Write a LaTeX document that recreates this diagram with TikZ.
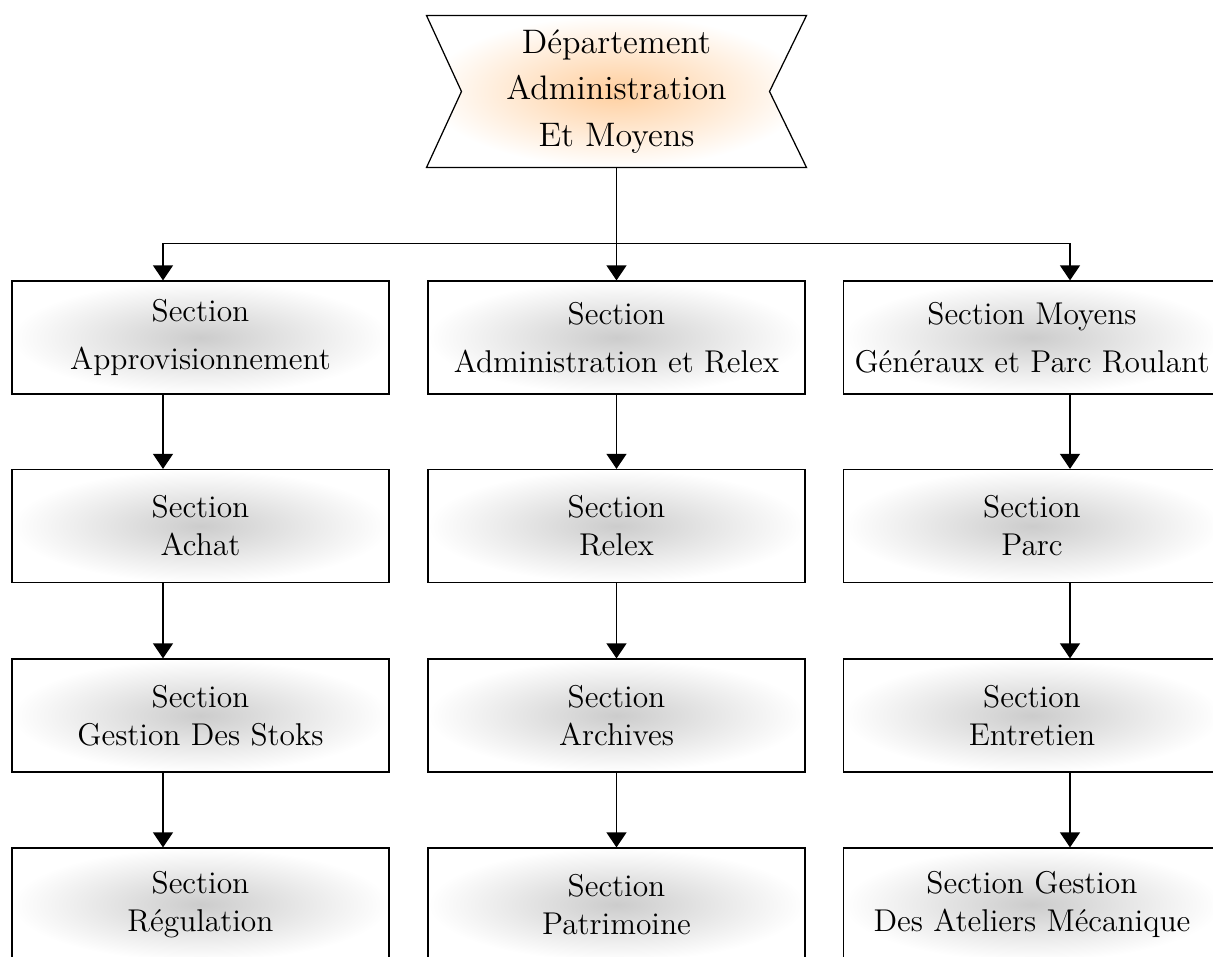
\documentclass[tikz,border=0pt]{standalone}
\usetikzlibrary{arrows.meta,calc,backgrounds}
\begin{document}
\begin{tikzpicture}[x=0.4pt,y=-0.4pt,
  box/.style={draw=black, line width=0.5pt, rectangle, minimum width=150.8pt, minimum height=45.2pt,
    inner color=black!20, outer color=white, align=center, inner sep=0pt,
    font=\fontsize{12.6}{15.2}\selectfont},
  arr/.style={line width=0.5pt, -{Triangle[length=6pt,width=8pt]}},
  topfont/.style={font=\fontsize{13.6}{18.6}\selectfont}]
\useasboundingbox (0,0) rectangle (1213,956);
\clip (0,0) rectangle (1213,956);

% top node
\node[topfont, align=center, minimum width=151.6pt, minimum height=60.4pt, inner sep=0pt]
  (dep) at (616.5,91.5) {Département\\Administration\\Et Moyens};
\begin{scope}[on background layer]
\path[draw=black, line width=0.5pt, inner color=orange!38, outer color=white]
  (dep.north west) -- (dep.north east) -- ($(dep.east)+(-37,0)$) -- (dep.south east)
  -- (dep.south west) -- ($(dep.west)+(35,0)$) -- cycle;
\end{scope}

% column 1
\node[box] (a1) at (200.5,337.5) {Section\\[4pt]Approvisionnement};
\node[box] (a2) at (200.5,526) {Section\\Achat};
\node[box] (a3) at (200.5,715.5) {Section\\Gestion Des Stoks};
\node[box] (a4) at (200.5,904.5) {Section\\Régulation};
% column 2
\node[box] (b1) at (616.5,337.5) {Section\\[4pt]Administration et Relex};
\node[box] (b2) at (616.5,526) {Section\\Relex};
\node[box] (b3) at (616.5,715.5) {Section\\Archives};
\node[box] (b4) at (616.5,904.5) {Section\\Patrimoine};
% column 3
\node[box] (c1) at (1032,337.5) {Section Moyens\\[4pt]Généraux et Parc Roulant};
\node[box] (c2) at (1032,526) {Section\\Parc};
\node[box] (c3) at (1032,715.5) {Section\\Entretien};
\node[box] (c4) at (1032,904.5) {Section Gestion\\Des Ateliers Mécanique};

% connectors from top
\draw[arr] (dep.south) -- (b1.north);
\draw[arr] (dep.south) -- ++(0,76) -| ($(a1.north)+(-37.5,0)$);
\draw[arr] (dep.south) -- ++(0,76) -| ($(c1.north)+(38,0)$);

% column connectors
\draw[arr] ($(a1.south)+(-37.5,0)$) -- ($(a2.north)+(-37.5,0)$);
\draw[arr] ($(a2.south)+(-37.5,0)$) -- ($(a3.north)+(-37.5,0)$);
\draw[arr] ($(a3.south)+(-37.5,0)$) -- ($(a4.north)+(-37.5,0)$);
\draw[arr] (b1.south) -- (b2.north);
\draw[arr] (b2.south) -- (b3.north);
\draw[arr] (b3.south) -- (b4.north);
\draw[arr] ($(c1.south)+(38,0)$) -- ($(c2.north)+(38,0)$);
\draw[arr] ($(c2.south)+(38,0)$) -- ($(c3.north)+(38,0)$);
\draw[arr] ($(c3.south)+(38,0)$) -- ($(c4.north)+(38,0)$);
\end{tikzpicture}
\end{document}
